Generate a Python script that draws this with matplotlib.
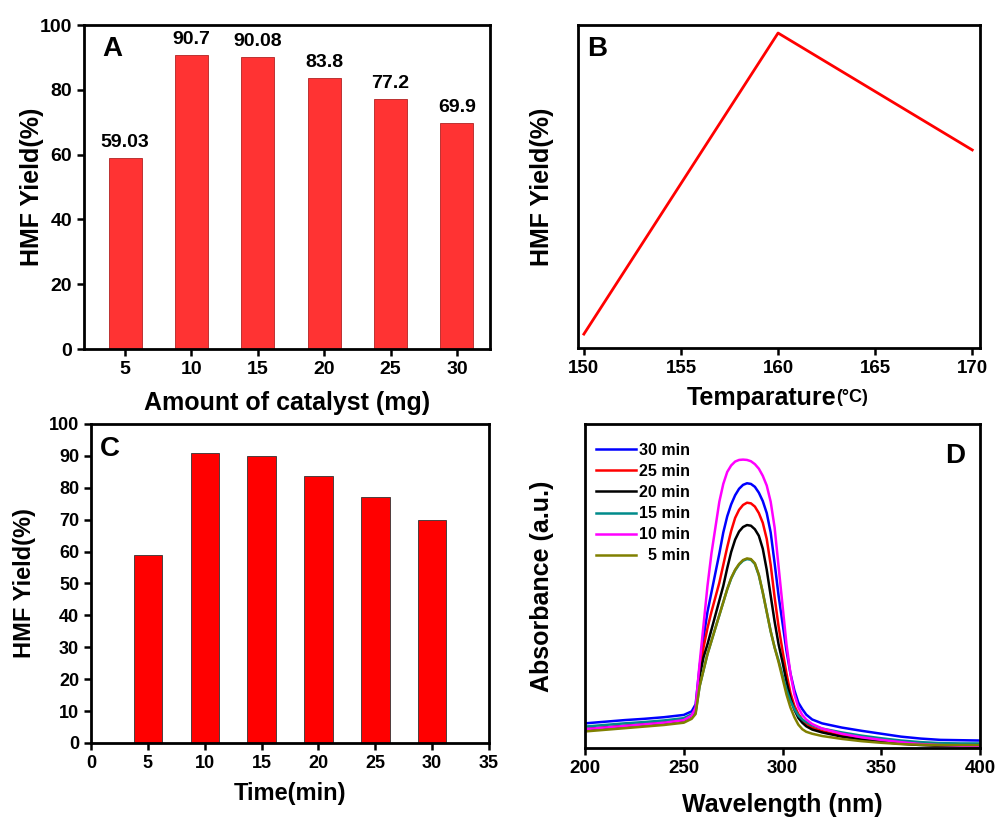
import numpy as np
import matplotlib
matplotlib.use("Agg")
from matplotlib import pyplot as plt

plt.rcParams['font.family'] = ['Liberation Sans', 'DejaVu Sans']
plt.rcParams['font.weight'] = 'bold'
plt.rcParams['axes.labelweight'] = 'bold'

# Panel A: catalyst amount
catalyst_mg = [5, 10, 15, 20, 25, 30]
yield_catalyst = [59.03, 90.7, 90.08, 83.8, 77.2, 69.9]
yield_labels = ["59.03", "90.7", "90.08", "83.8", "77.2", "69.9"]

# Panel B: temperature (no y scale in the original, relative values)
temperature = [150, 160, 170]
yield_temp = [4.3, 97.5, 61.3]

# Panel C: time
time_min = [5, 10, 15, 20, 25, 30]
yield_time = [59.0, 90.8, 90.1, 83.8, 77.1, 69.9]

# Panel D: UV-vis spectra
wavelength = [200, 210, 220, 230, 240, 250, 254,
              256, 258, 260, 262, 264, 266, 268, 270, 272, 274, 276, 278, 280,
              282, 284, 286, 288, 290, 292, 294, 296, 298, 300, 302, 304, 306,
              308, 310, 312,
              315, 320, 330, 340, 350, 360, 370, 380, 390, 400]
abs_30 = [0.076, 0.081, 0.086, 0.090, 0.095, 0.102, 0.113,
          0.135, 0.25, 0.34, 0.42, 0.48, 0.54, 0.60, 0.665, 0.715, 0.752, 0.78, 0.80, 0.812,
          0.817, 0.815, 0.806, 0.788, 0.762, 0.725, 0.665, 0.57, 0.47, 0.385, 0.30, 0.23, 0.178,
          0.14, 0.12, 0.103,
          0.088, 0.076, 0.063, 0.053, 0.044, 0.035, 0.029, 0.025, 0.024, 0.023]
abs_25 = [0.058, 0.063, 0.068, 0.073, 0.078, 0.086, 0.10,
          0.12, 0.23, 0.31, 0.37, 0.42, 0.465, 0.51, 0.565, 0.62, 0.67, 0.71, 0.735, 0.75,
          0.757, 0.755, 0.745, 0.725, 0.695, 0.645, 0.565, 0.465, 0.375, 0.30, 0.23, 0.17, 0.13,
          0.105, 0.088, 0.076,
          0.063, 0.052, 0.038, 0.028, 0.020, 0.014, 0.010, 0.008, 0.007, 0.006]
abs_20 = [0.058, 0.063, 0.068, 0.073, 0.078, 0.086, 0.10,
          0.115, 0.22, 0.28, 0.32, 0.365, 0.41, 0.455, 0.50, 0.555, 0.605, 0.643, 0.668, 0.682,
          0.688, 0.686, 0.675, 0.655, 0.615, 0.55, 0.47, 0.39, 0.32, 0.265, 0.205, 0.155, 0.118,
          0.093, 0.078, 0.067,
          0.057, 0.048, 0.035, 0.026, 0.019, 0.013, 0.009, 0.007, 0.006, 0.005]
abs_15 = [0.066, 0.071, 0.076, 0.080, 0.085, 0.092, 0.104,
          0.11, 0.19, 0.24, 0.29, 0.33, 0.37, 0.41, 0.45, 0.49, 0.523, 0.548, 0.566, 0.578,
          0.583, 0.581, 0.568, 0.533, 0.48, 0.42, 0.36, 0.31, 0.27, 0.225, 0.18, 0.145, 0.12,
          0.10, 0.088, 0.08,
          0.070, 0.060, 0.048, 0.038, 0.030, 0.023, 0.018, 0.015, 0.014, 0.014]
abs_10 = [0.058, 0.063, 0.068, 0.073, 0.078, 0.086, 0.10,
          0.125, 0.26, 0.38, 0.50, 0.60, 0.68, 0.76, 0.815, 0.852, 0.872, 0.884, 0.889, 0.89,
          0.889, 0.885, 0.876, 0.862, 0.84, 0.81, 0.76, 0.68, 0.56, 0.44, 0.32, 0.23, 0.165,
          0.125, 0.102, 0.088,
          0.074, 0.060, 0.044, 0.033, 0.025, 0.018, 0.012, 0.009, 0.007, 0.006]
abs_5 = [0.051, 0.056, 0.061, 0.066, 0.071, 0.078, 0.09,
         0.105, 0.19, 0.24, 0.29, 0.33, 0.37, 0.41, 0.45, 0.49, 0.525, 0.55, 0.568, 0.58,
         0.585, 0.583, 0.57, 0.535, 0.48, 0.42, 0.36, 0.31, 0.265, 0.215, 0.165, 0.125, 0.095,
         0.072, 0.058, 0.05,
         0.044, 0.037, 0.028, 0.021, 0.016, 0.012, 0.010, 0.009, 0.009, 0.009]
spectra = [abs_30, abs_25, abs_20, abs_15, abs_10, abs_5]
spectra_labels = ["30 min", "25 min", "20 min", "15 min", "10 min", "  5 min"]
spectra_colors = ["#0000FF", "#FF0000", "#000000", "#008B8B", "#FF00FF", "#808000"]


def style_axes(ax, lw=2.0):
    for sp in ax.spines.values():
        sp.set_linewidth(lw)
        sp.set_color('black')
    ax.tick_params(direction='out', width=1.8, length=5)


fig = plt.figure(figsize=(9.98, 8.18), dpi=100)

# ---- A ----
axA = fig.add_axes([0.0842, 0.5733, 0.4068, 0.3961])
bars = axA.bar(catalyst_mg, yield_catalyst, width=2.5, color="#FF3333",
               edgecolor="#B22222", linewidth=0.6)
for b, lab in zip(bars, yield_labels):
    axA.annotate(lab, (b.get_x() + b.get_width() / 2, b.get_height()),
                 xytext=(0, 5), textcoords='offset points', ha='center',
                 va='bottom', fontsize=14)
axA.set_xlim(1.9, 32.5)
axA.set_ylim(0, 100)
axA.set_xticks(catalyst_mg)
axA.set_yticks([0, 20, 40, 60, 80, 100])
style_axes(axA)
axA.tick_params(labelsize=14)
axA.set_xlabel("Amount of catalyst (mg)", fontsize=18)
axA.set_ylabel("HMF Yield(%)", fontsize=18)
axA.xaxis.label.set_va('center')
axA.yaxis.label.set_va('center')
axA.xaxis.set_label_coords(0.5, -0.165)
axA.yaxis.set_label_coords(-0.128, 0.5)
axA.text(0.044, 0.965, "A", transform=axA.transAxes, fontsize=20, va='top', ha='left')

# ---- B ----
axB = fig.add_axes([0.5792, 0.5746, 0.4028, 0.3949])
axB.plot(temperature, yield_temp, color="#FF0000", lw=2)
axB.set_xlim(149.7, 170.4)
axB.set_ylim(0, 100)
axB.set_xticks([150, 155, 160, 165, 170])
axB.set_yticks([])
style_axes(axB)
axB.tick_params(labelsize=13.5)
axB.set_ylabel("HMF Yield(%)", fontsize=18)
axB.yaxis.label.set_va('center')
axB.yaxis.set_label_coords(-0.09, 0.5)
tB = axB.text(0.27, -0.155, "Temparature", transform=axB.transAxes, fontsize=18,
              ha='left', va='center')
axB.annotate("(°C)", xy=(1.0, 0.18), xycoords=tB, fontsize=13, ha='left', va='bottom')
axB.text(0.022, 0.965, "B", transform=axB.transAxes, fontsize=20, va='top', ha='left')

# ---- C ----
axC = fig.add_axes([0.0912, 0.0917, 0.3988, 0.39])
axC.bar(time_min, yield_time, width=2.5, color="#FF0000", edgecolor="#333333",
        linewidth=0.6)
axC.set_xlim(0, 35)
axC.set_ylim(0, 100)
axC.set_xticks(range(0, 36, 5))
axC.set_yticks(range(0, 101, 10))
style_axes(axC)
axC.tick_params(labelsize=13)
axC.set_xlabel("Time(min)", fontsize=17)
axC.set_ylabel("HMF Yield(%)", fontsize=17)
axC.xaxis.label.set_va('center')
axC.yaxis.label.set_va('center')
axC.xaxis.set_label_coords(0.5, -0.157)
axC.yaxis.set_label_coords(-0.168, 0.5)
axC.text(0.023, 0.962, "C", transform=axC.transAxes, fontsize=20, va='top', ha='left')

# ---- D ----
axD = fig.add_axes([0.5862, 0.0856, 0.3958, 0.3961])
for vals, lab, col in zip(spectra, spectra_labels, spectra_colors):
    axD.plot(wavelength, vals, color=col, lw=1.8, label=lab)
axD.set_xlim(200, 400)
axD.set_ylim(0, 1)
axD.set_xticks([200, 250, 300, 350, 400])
axD.set_yticks([])
style_axes(axD)
axD.tick_params(labelsize=13.5)
axD.set_xlabel("Wavelength (nm)", fontsize=18)
axD.set_ylabel("Absorbance (a.u.)", fontsize=18)
axD.xaxis.label.set_va('center')
axD.yaxis.label.set_va('center')
axD.xaxis.set_label_coords(0.5, -0.176)
axD.yaxis.set_label_coords(-0.109, 0.5)
axD.legend(loc='upper left', bbox_to_anchor=(0.0, 0.976), frameon=False,
           fontsize=11.5, handlelength=2.5, handletextpad=0.2, labelspacing=0.38,
           borderaxespad=0.3)
axD.text(0.962, 0.94, "D", transform=axD.transAxes, fontsize=20, va='top', ha='right')

fig.savefig("out.png", dpi=100)
